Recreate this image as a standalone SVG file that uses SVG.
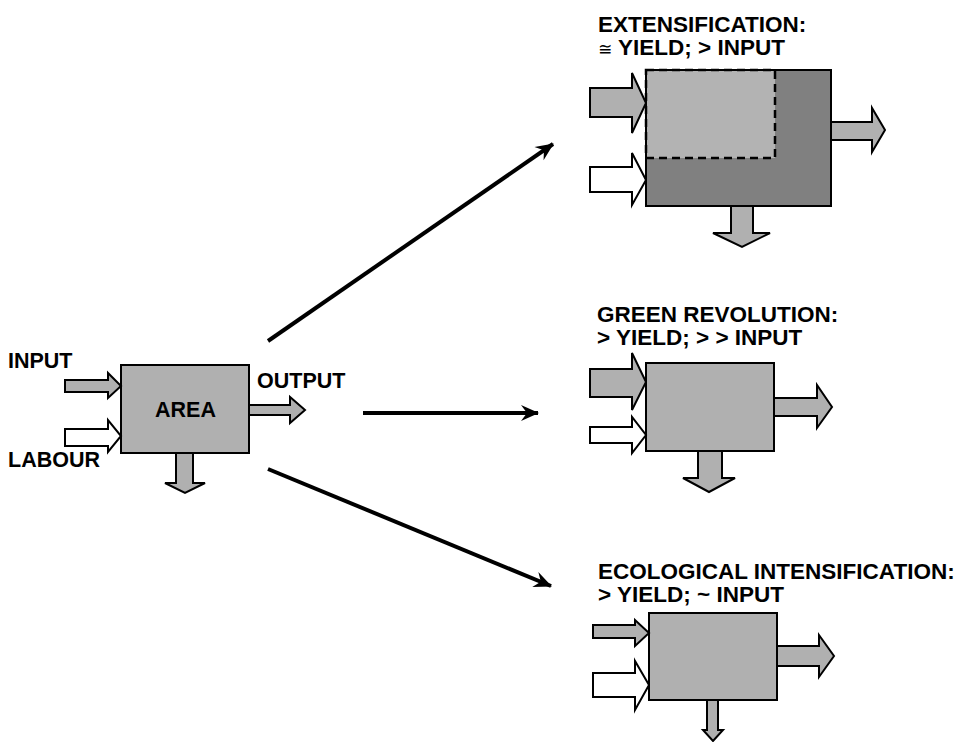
<svg xmlns="http://www.w3.org/2000/svg" width="967" height="742" viewBox="0 0 967 742">
<defs>
<style>
text{font-family:"Liberation Sans",Arial,Helvetica,sans-serif;font-weight:bold;fill:#000}
.lbl{font-size:21.5px}
.ttl{font-size:22.5px}
.box{fill:#b0b0b0;stroke:#000;stroke-width:2}
.g{fill:#b0b0b0;stroke:#000;stroke-width:2;stroke-linejoin:miter}
.w{fill:#fff;stroke:#000;stroke-width:2;stroke-linejoin:miter}
.con{stroke:#000;stroke-width:4;fill:none;marker-end:url(#ah)}
</style>
<marker id="ah" markerUnits="userSpaceOnUse" viewBox="-18 -9 20 18" refX="0" refY="0" markerWidth="20" markerHeight="18" orient="auto">
<path d="M1,0 L-17,-8 L-11,0 L-17,8 Z" fill="#000"/>
</marker>
</defs>
<rect width="967" height="742" fill="#fff"/>

<g id="connectors">
<line class="con" x1="268" y1="341" x2="553" y2="144"/>
<line class="con" x1="363" y1="413" x2="538" y2="413"/>
<line class="con" x1="268" y1="469" x2="551" y2="586"/>
</g>

<g id="area">
<rect class="box" x="121" y="365" width="128" height="88"/>
<text class="lbl" x="155" y="417">AREA</text>
<text class="lbl" x="8" y="368">INPUT</text>
<text class="lbl" x="8" y="467">LABOUR</text>
<text class="lbl" x="257" y="388">OUTPUT</text>
<polygon class="g" points="65,380 108,380 108,373 121,386 108,398 108,392 65,392"/>
<polygon class="w" points="65,429 108,429 108,420 121,436 108,452 108,446 65,446"/>
<polygon class="g" points="249,405 290,405 290,397 305,410 290,423 290,415 249,415"/>
<polygon class="g" points="176,453 193,453 193,483 205,483 185,493 165,483 176,483"/>
</g>

<g id="extensification">
<text class="ttl" x="598" y="32">EXTENSIFICATION:</text>
<text class="ttl" x="598" y="55"><tspan style="font-family:'DejaVu Sans',sans-serif;font-weight:normal;font-size:17px">≅</tspan> YIELD; &gt; INPUT</text>
<rect x="646" y="70" width="185" height="136" fill="#808080"/>
<rect x="646" y="70" width="129" height="88" fill="#b3b3b3" stroke="#000" stroke-width="2.5" stroke-dasharray="8,5"/>
<rect x="646" y="70" width="185" height="136" fill="none" stroke="#000" stroke-width="2"/>
<polygon class="g" points="590,88 632,88 632,73 646,103 632,133 632,117 590,117"/>
<polygon class="w" points="590,167 632,167 632,153 646,180 632,205 632,192 590,192"/>
<polygon class="g" points="831,122 872,122 872,108 885,130 872,152 872,140 831,140"/>
<polygon class="g" points="731,206 753,206 753,233 770,233 742,247 713,233 731,233"/>
</g>

<g id="green-revolution">
<text class="ttl" x="597" y="322">GREEN REVOLUTION:</text>
<text class="ttl" x="597" y="345">&gt; YIELD; &gt; &gt; INPUT</text>
<rect class="box" x="646" y="363" width="128" height="88"/>
<polygon class="g" points="590,369 632,369 632,353 646,382 632,410 632,397 590,397"/>
<polygon class="w" points="590,427 632,427 632,417 646,435 632,453 632,443 590,443"/>
<polygon class="g" points="774,398 817,398 817,385 832,407 817,428 817,416 774,416"/>
<polygon class="g" points="698,451 722,451 722,478 735,478 709,492 683,478 698,478"/>
</g>

<g id="ecological-intensification">
<text class="ttl" x="598" y="579">ECOLOGICAL INTENSIFICATION:</text>
<text class="ttl" x="598" y="602">&gt; YIELD; ~ INPUT</text>
<rect class="box" x="649" y="613" width="128" height="87"/>
<polygon class="g" points="593,625 635,625 635,620 649,633 635,646 635,638 593,638"/>
<polygon class="w" points="593,673 635,673 635,661 649,685 635,710 635,697 593,697"/>
<polygon class="g" points="777,646 819,646 819,635 834,656 819,677 819,666 777,666"/>
<polygon class="g" points="707,700 718,700 718,730 723,730 713,741 703,730 707,730"/>
</g>
</svg>
